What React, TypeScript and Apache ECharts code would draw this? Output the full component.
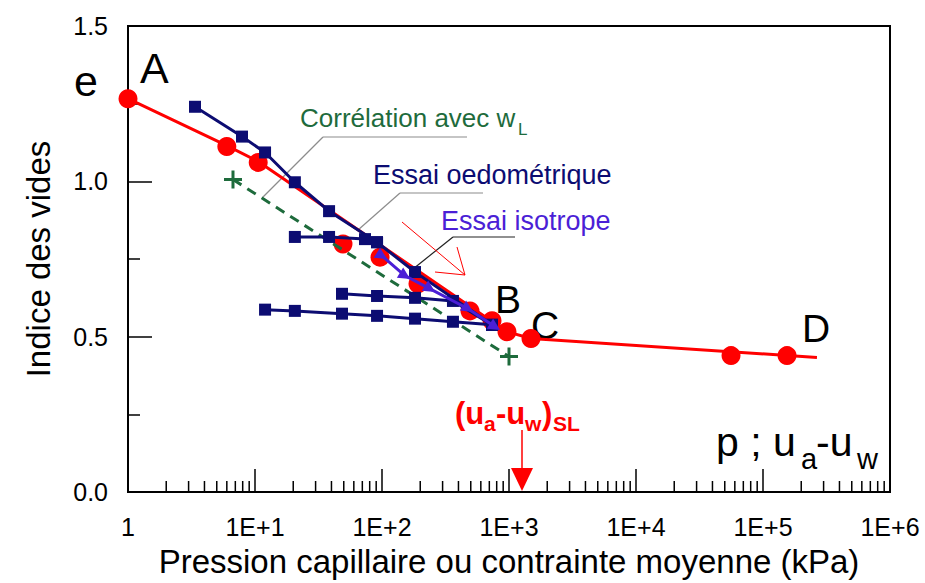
import React, { useEffect, useRef } from 'react';
import * as echarts from 'echarts';

// ---- data ----
const xMin = 1;
const xMax = 1000000;
const yTicks = [0, 0.5, 1.0, 1.5];

// red fitted curve (A -> B -> C -> D)
const redFitX = [1, 6.0, 10.6, 964, 1490, 266000];
const redFitE = [1.266, 1.115, 1.064, 0.516, 0.494, 0.433];

// red experimental points
const redPtsX = [1, 6.0, 10.6, 49.3, 96.5, 192, 493, 735, 964, 1490, 56000, 154600];
const redPtsE = [1.266, 1.112, 1.061, 0.798, 0.756, 0.67, 0.583, 0.551, 0.516, 0.494, 0.439, 0.439];

// green correlation with wL (dashed)
const corrX = [6.71, 1000];
const corrE = [1.006, 0.436];

// oedometric tests (navy)
const oedo1X = [3.37, 7.9, 12.0, 20.6, 38.3, 91.4, 182, 735];
const oedo1E = [1.24, 1.144, 1.093, 0.997, 0.904, 0.804, 0.708, 0.538];
const oedo2X = [20.6, 38.3, 73.5, 91.4];
const oedo2E = [0.821, 0.821, 0.814, 0.804];
const oedo3X = [48.4, 91.4, 182, 362, 735];
const oedo3E = [0.638, 0.631, 0.625, 0.615, 0.538];
const oedo4X = [12.0, 20.6, 48.4, 91.4, 182, 362, 735];
const oedo4E = [0.587, 0.583, 0.574, 0.567, 0.558, 0.548, 0.538];

// isotropic test
const isoX = [100, 152, 239, 476, 776];
const isoE = [0.76, 0.696, 0.654, 0.59, 0.532];

const RED = '#ff0000';
const NAVY = '#0c0c72';
const VIOLET = '#4b1fd6';
const GREEN = '#1e6b3c';
const FONT = '"Liberation Sans", Arial, Helvetica, sans-serif';

const zip = (xs: number[], ys: number[]) => xs.map((x, i) => [x, ys[i]]);

const minorTickX: number[] = [];
for (let d = 0; d < 6; d++) {
  for (let m = 2; m <= 9; m++) minorTickX.push(m * Math.pow(10, d));
}

const PLUS = 'path://M5,0 L7,0 L7,5 L12,5 L12,7 L7,7 L7,12 L5,12 L5,7 L0,7 L0,5 L5,5 Z';

function txt(text: string, x: number, y: number, size: number, fill: string, weight: string = 'normal') {
  return {
    type: 'text',
    x,
    y,
    silent: true,
    style: {
      text,
      fill,
      fontSize: size,
      fontFamily: FONT,
      fontWeight: weight,
      align: 'left',
      verticalAlign: 'middle',
    },
  };
}

function seg(x1: number, y1: number, x2: number, y2: number, stroke: string, w: number) {
  return {
    type: 'line',
    silent: true,
    shape: { x1, y1, x2, y2 },
    style: { stroke, lineWidth: w },
  };
}

export default function App() {
  const ref = useRef<HTMLDivElement>(null);
  useEffect(() => {
    if (!ref.current) return;
    const chart = echarts.init(ref.current, null, { renderer: 'svg' });
    const option: any = {
      animation: false,
      backgroundColor: '#ffffff',
      grid: {
        left: 128,
        right: 35,
        top: 26,
        bottom: 89,
        show: true,
        borderColor: '#000',
        borderWidth: 2,
        backgroundColor: 'transparent',
      },
      xAxis: {
        type: 'log',
        logBase: 10,
        min: xMin,
        max: xMax,
        name: 'Pression capillaire ou contrainte moyenne (kPa)',
        nameLocation: 'middle',
        nameGap: 53,
        nameTextStyle: { fontSize: 33, fontFamily: FONT, color: '#000' },
        axisLine: { show: true, lineStyle: { color: '#000', width: 2 } },
        axisTick: { show: true, inside: true, length: 23, lineStyle: { color: '#000', width: 1.5 } },
        axisLabel: {
          show: true,
          margin: 22,
          fontSize: 25,
          fontFamily: FONT,
          color: '#000',
          showMinLabel: true,
          showMaxLabel: true,
          formatter: (v: number) => (v === 1 ? '1' : '1E+' + Math.round(Math.log10(v))),
        },
        splitLine: { show: false },
        minorTick: { show: false },
      },
      yAxis: {
        type: 'value',
        min: yTicks[0],
        max: yTicks[yTicks.length - 1],
        interval: 0.5,
        name: 'Indice des vides',
        nameLocation: 'middle',
        nameGap: 73,
        nameRotate: 90,
        nameTextStyle: { fontSize: 33, fontFamily: FONT, color: '#000' },
        axisLine: { show: true, lineStyle: { color: '#000', width: 2 } },
        axisTick: { show: true, inside: true, length: 24, lineStyle: { color: '#000', width: 1.5 } },
        minorTick: { show: true, splitNumber: 2, length: 12, lineStyle: { color: '#000', width: 1.5 } },
        minorSplitLine: { show: false },
        axisLabel: {
          margin: 20,
          fontSize: 25,
          fontFamily: FONT,
          color: '#000',
          formatter: (v: number) => v.toFixed(1),
        },
        splitLine: { show: false },
      },
      series: [
        {
          type: 'custom',
          name: 'minorTicks',
          data: minorTickX.map((v) => [v, 0]),
          encode: { x: 0, y: 1 },
          clip: false,
          silent: true,
          z: 1,
          renderItem: (params: any, api: any) => {
            const p = api.coord([api.value(0), 0]);
            return {
              type: 'line',
              shape: { x1: p[0], y1: p[1], x2: p[0], y2: p[1] - 11 },
              style: { stroke: '#000', lineWidth: 1.5 },
            };
          },
        },
        {
          type: 'line',
          name: 'fit',
          data: zip(redFitX, redFitE),
          symbol: 'none',
          lineStyle: { color: RED, width: 3 },
          z: 2,
        },
        {
          type: 'scatter',
          name: 'points',
          data: zip(redPtsX, redPtsE),
          symbol: 'circle',
          symbolSize: 19,
          itemStyle: { color: RED, opacity: 1 },
          z: 3,
        },
        {
          type: 'line',
          name: 'Corrélation avec wL',
          data: zip(corrX, corrE),
          symbol: PLUS,
          symbolSize: 18,
          itemStyle: { color: GREEN },
          lineStyle: { color: GREEN, width: 3, type: [10, 7] },
          z: 4,
        },
        ...[
          [oedo1X, oedo1E],
          [oedo2X, oedo2E],
          [oedo3X, oedo3E],
          [oedo4X, oedo4E],
        ].map(([xs, es], i) => ({
          type: 'line',
          name: 'oedo' + (i + 1),
          data: zip(xs as number[], es as number[]),
          symbol: 'rect',
          symbolSize: 12,
          itemStyle: { color: NAVY },
          lineStyle: { color: NAVY, width: 3 },
          z: 5,
        })),
        {
          type: 'line',
          name: 'isotrope',
          data: zip(isoX, isoE),
          symbol: 'triangle',
          symbolSize: 12,
          symbolRotate: -122,
          itemStyle: { color: VIOLET },
          lineStyle: { color: VIOLET, width: 3 },
          z: 6,
        },
      ],
      graphic: [
        // point letters
        txt('e', 74, 81, 43, '#000'),
        txt('A', 140, 68, 43, '#000'),
        txt('B', 495, 299, 39, '#000'),
        txt('C', 531, 325, 39, '#000'),
        txt('D', 802, 328, 39, '#000'),
        // labels
        txt('Corrélation avec w', 300, 118, 26, GREEN),
        txt('L', 518, 129, 17, GREEN),
        txt('Essai oedométrique', 373, 175, 27, NAVY),
        txt('Essai isotrope', 441, 221, 27, VIOLET),
        // leader lines
        seg(323, 137, 467, 137, '#8c8c8c', 1.2),
        seg(323, 137, 263, 197, '#8c8c8c', 1.2),
        seg(400, 193, 483, 193, '#8c8c8c', 1.2),
        seg(400, 193, 358, 230, '#8c8c8c', 1.2),
        seg(453, 237, 515, 237, '#222', 1.2),
        seg(453, 237, 413, 269, '#222', 1.2),
        // thin red open arrow
        seg(402, 222, 465, 275, RED, 1),
        seg(465, 275, 435, 272, RED, 1),
        seg(465, 275, 457, 247, RED, 1),
        // (ua-uw)SL
        txt('(u', 455, 413, 31, RED, 'bold'),
        txt('a', 484, 423, 21, RED, 'bold'),
        txt('-u', 496, 413, 31, RED, 'bold'),
        txt('w', 525, 423, 21, RED, 'bold'),
        txt(')', 542, 413, 31, RED, 'bold'),
        txt('SL', 553, 423, 21, RED, 'bold'),
        seg(522, 430, 522, 470, RED, 1.5),
        {
          type: 'polygon',
          silent: true,
          shape: { points: [[511, 468], [533, 468], [522, 491]] },
          style: { fill: RED },
        },
        // p ; ua-uw
        txt('p ; u', 716, 442, 41, '#000'),
        txt('a', 801, 459, 29, '#000'),
        txt('-u', 816, 442, 41, '#000'),
        txt('w', 857, 459, 29, '#000'),
      ],
    };
    chart.setOption(option);
    return () => chart.dispose();
  }, []);
  return <div ref={ref} style={{ position: 'fixed', left: 0, top: 0, width: 925, height: 583 }} />;
}
